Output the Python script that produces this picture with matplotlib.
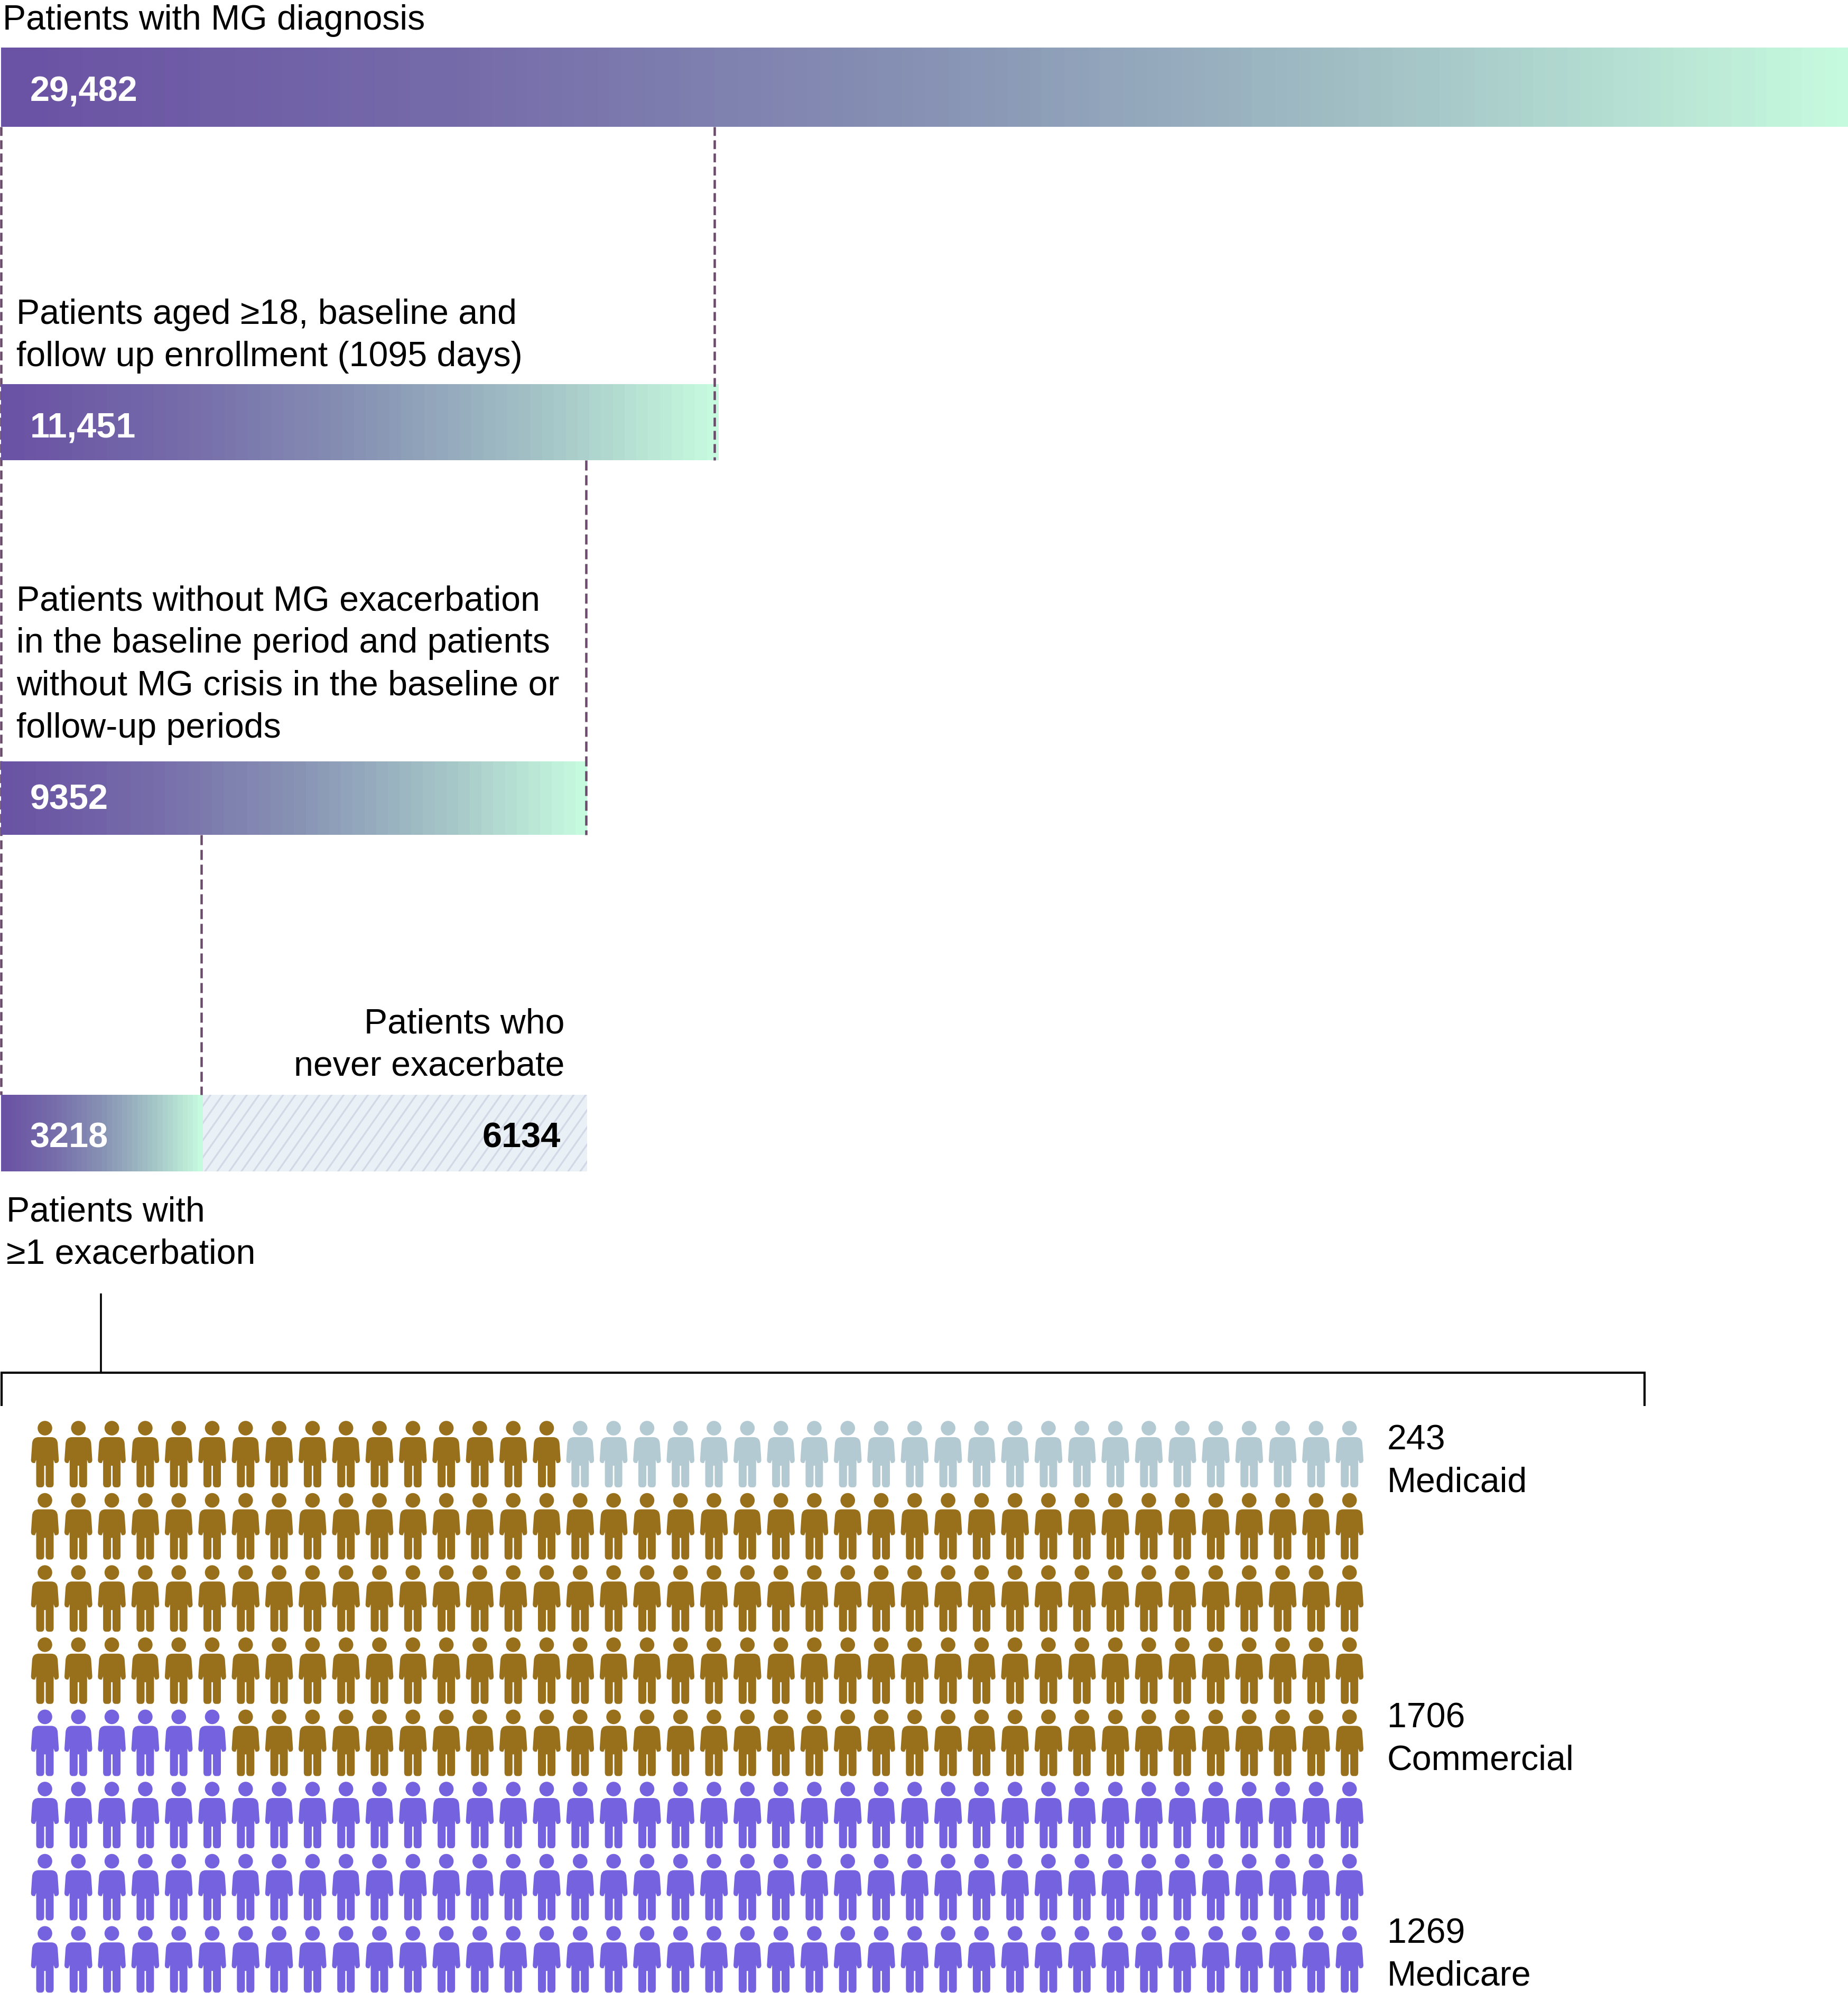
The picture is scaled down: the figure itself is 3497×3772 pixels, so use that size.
import numpy as np
import matplotlib
matplotlib.use("Agg")
import matplotlib.pyplot as plt
from matplotlib.path import Path
from matplotlib.patches import PathPatch, Rectangle
from matplotlib.transforms import Affine2D
from matplotlib.colors import LinearSegmentedColormap

plt.rcParams['font.family'] = ['Liberation Sans', 'DejaVu Sans']

# ---------- data ----------
funnel_values = [29482, 11451, 9352, 3218]
funnel_labels = ['29,482', '11,451', '9352', '3218']
never_value = 6134
never_label = '6134'
payer_names = ['Medicare', 'Commercial', 'Medicaid']
payer_values = [1269, 1706, 243]
patients_per_icon = 10
icon_columns = 40
icon_rows = 8

# ---------- style ----------
W, H = 3498, 3772
FS = 47.7
FS_BOLD = 48
DASH = '#6B4A6B'
payer_colors = {'Medicare': '#7562DE', 'Commercial': '#98701C', 'Medicaid': '#B3CAD2'}
bar_rows = [(90, 240), (727, 871), (1441, 1580), (2072, 2217)]
value_baselines = [192, 827, 1532, 2171]

fig = plt.figure(figsize=(W / 100, H / 100), dpi=100, facecolor='white')
ax = fig.add_axes([0, 0, 1, 1])
ax.set_xlim(0, W)
ax.set_ylim(H, 0)
ax.axis('off')
LEFT = 2
bx = fig.add_axes([LEFT / W, 0, (W - LEFT) / W, 1], facecolor='none')
bx.axis('off')

cmap = LinearSegmentedColormap.from_list(
    'g', [(0, '#6A52A4'), (0.25, '#766CAA'), (0.5, '#8792B4'), (0.75, '#A3C2C6'), (1, '#C6FADE')])


def dashed(x, y0, y1, on, off, z):
    ax.plot([x, x], [y0, y1], color=DASH, lw=3.24, zorder=z,
            linestyle=(0, (on / 4.5, off / 4.5)), dash_capstyle='butt')


for (i, (val, (y0, y1))) in enumerate(zip(funnel_values, bar_rows)):
    px = val / funnel_values[0] * (W - LEFT)
    n = max(int(px / 22), 40)
    grad = np.linspace(0, 1, n)[None, :]
    bx.imshow(grad, extent=(0, val, y1, y0), cmap=cmap, aspect='auto',
              interpolation='nearest', zorder=2)
    ax.text(57, value_baselines[i], funnel_labels[i], color='white', fontsize=FS_BOLD,
            fontweight='bold', va='baseline', ha='left', zorder=6)
bx.set_xlim(0, funnel_values[0])
bx.set_ylim(H, 0)

ax.set_zorder(3)
bx.set_zorder(2)
ax.patch.set_alpha(0)

lx = fig.add_axes([0, 0, 1, 1], facecolor='none')
lx.set_xlim(0, W)
lx.set_ylim(H, 0)
lx.axis('off')
lx.set_zorder(1)
lx.plot([2.2, 2.2], [240, 2072], color=DASH, lw=3.24,
        linestyle=(0, (16.7 / 4.5, 8.3 / 4.5)), dash_capstyle='butt')

dashed(1352, 240, 871, 16.7, 8.3, 5)
dashed(1109, 871, 1580, 19, 9, 5)
dashed(381, 1580, 2072, 19, 9, 5)

# never-exacerbate hatched block
y0, y1 = bar_rows[3]
rect = Rectangle((funnel_values[3], y0), never_value, y1 - y0, facecolor='#EAF1F6',
                 edgecolor='none', zorder=1)
bx.add_patch(rect)
x_left = LEFT + funnel_values[3] / funnel_values[0] * (W - LEFT)
x_right = LEFT + (funnel_values[3] + never_value) / funnel_values[0] * (W - LEFT)
slope = 1.42
for xb in np.arange(x_left - 110, x_right + 10, 22.9):
    ln, = bx.plot([(xb - LEFT) / (W - LEFT) * funnel_values[0],
                   (xb + (y1 - y0) / slope - LEFT) / (W - LEFT) * funnel_values[0]],
                  [y1, y0], color='#D4D7E6', lw=2.4, zorder=1.5)
    ln.set_clip_path(rect)
ax.text(1061, 2172, never_label, color='black', fontsize=FS_BOLD, fontweight='bold',
        ha='right', va='baseline', zorder=6)


def lines(x, baselines, texts, ha='left'):
    for b, t in zip(baselines, texts):
        ax.text(x, b, t, fontsize=FS, color='black', ha=ha, va='baseline')


lines(5, [56], ['Patients with MG diagnosis'])
lines(31, [613, 693], ['Patients aged \u226518, baseline and', 'follow up enrollment (1095 days)'])
lines(31, [1155, 1235, 1316, 1396],
      ['Patients without MG exacerbation', 'in the baseline period and patients',
       'without MG crisis in the baseline or', 'follow-up periods'])
lines(1068, [1956, 2036], ['Patients who', 'never exacerbate'], ha='right')
lines(12, [2312, 2392], ['Patients with', '\u22651 exacerbation'])

# bracket
ax.plot([191, 191], [2448, 2598], color='black', lw=2.6, solid_capstyle='butt')
ax.plot([3, 3, 3112, 3112], [2661, 2598, 2598, 2661], color='black', lw=3.0,
        solid_capstyle='butt', solid_joinstyle='miter')

# person icon, origin at head centre, px units, y down
M, L, C = Path.MOVETO, Path.LINETO, Path.CURVE3
head = Path.circle((0, 0), 13.8)
right = [(M, (-12, 17)), (L, (12, 17)), (C, (23.5, 17)), (C, (24.2, 29)), (L, (26.3, 60)),
         (C, (26.3, 66)), (C, (21, 66)), (L, (19, 66)), (L, (16.5, 60)),
         (L, (16.5, 105)), (C, (16.5, 112)), (C, (11, 112)), (L, (7, 112)),
         (C, (1.4, 112)), (C, (1.4, 105)), (L, (1.4, 71)), (L, (-1.4, 71)),
         (L, (-1.4, 105)), (C, (-1.4, 112)), (C, (-7, 112)), (L, (-11, 112)),
         (C, (-16.5, 112)), (C, (-16.5, 105)), (L, (-16.5, 60)), (L, (-19, 66)),
         (L, (-21, 66)), (C, (-26.3, 66)), (C, (-26.3, 60)), (L, (-24.2, 29)),
         (C, (-23.5, 17)), (C, (-12, 17)), (Path.CLOSEPOLY, (-12, 17))]
icon = Path.make_compound_path(head, Path([p for _, p in right], [c for c, _ in right]))

X0, DX, Y0, DY = 85, 63.3, 2703, 136.6
seq = []
for name, v in zip(payer_names, payer_values):
    seq += [name] * (v // patients_per_icon)
for k, name in enumerate(seq):
    r = icon_rows - 1 - k // icon_columns
    c = k % icon_columns
    ax.add_patch(PathPatch(icon, facecolor=payer_colors[name], edgecolor='none',
                           transform=Affine2D().translate(X0 + c * DX, Y0 + r * DY) + ax.transData))

payer_baselines = {'Medicaid': (2743, 2823), 'Commercial': (3270, 3350), 'Medicare': (3677, 3757)}
for name, v in zip(payer_names, payer_values):
    lines(2625, payer_baselines[name], [str(v), name])

fig.savefig('out.png', dpi=100, facecolor='white')
